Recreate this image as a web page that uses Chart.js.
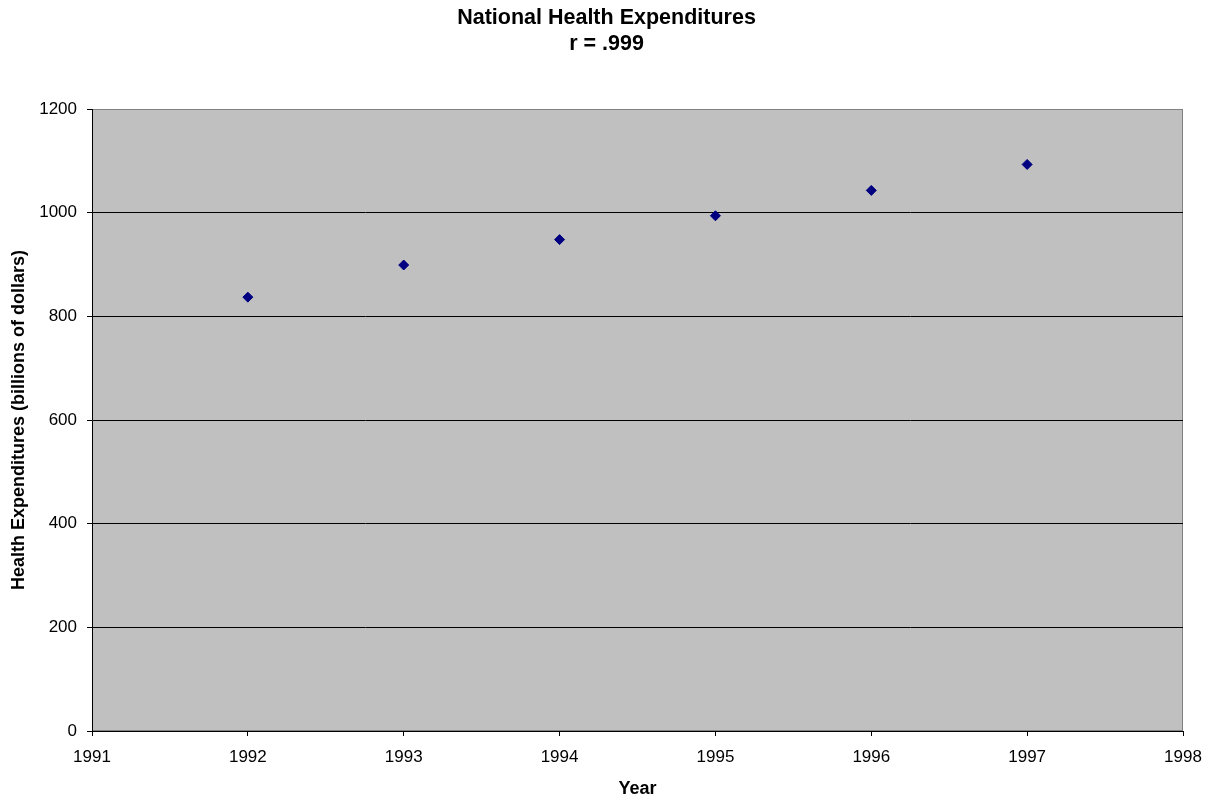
<!DOCTYPE html>
<html lang="en">
<head>
    <meta charset="UTF-8">
    <script src="https://cdn.jsdelivr.net/npm/chart.js@4.4.1/dist/chart.umd.min.js"></script>
    <title>National Health Expenditures</title>
    <style>
        html, body { margin: 0; padding: 0; background: #fff; }
        #wrap { width: 1213px; height: 802px; }
    </style>
</head>
<body>
    <div id="wrap"><canvas id="chart"></canvas></div>

    <script>
        // values
        const years = [1992, 1993, 1994, 1995, 1996, 1997]
        const spending = [837, 899, 948, 994, 1043, 1093]   // billions of dollars

        const xMin = 1991, xMax = 1998
        const yMin = 0, yMax = 1200, yStep = 200

        const points = years.map((yr, i) => ({ x: yr, y: spending[i] }))

        // grey plot area with a thin grey frame, drawn under the grid
        const plotBg = {
            id: 'plotBg',
            beforeDraw(chart) {
                const { ctx, chartArea: a } = chart
                ctx.save()
                ctx.fillStyle = '#c0c0c0'
                ctx.fillRect(a.left, a.top, a.right - a.left, a.bottom - a.top)
                ctx.strokeStyle = '#808080'
                ctx.lineWidth = 1
                ctx.strokeRect(a.left + 0.5, a.top + 0.5, a.right - a.left - 1, a.bottom - a.top - 1)
                ctx.restore()
            }
        }

        const font = 'Liberation Sans, Arial, sans-serif'

        const chart = new Chart(document.getElementById('chart'), {
            type: 'scatter',
            data: {
                datasets: [{
                    label: 'Health Expenditures',
                    data: points,
                    pointStyle: 'rectRot',
                    pointRadius: 5,
                    backgroundColor: '#000080',
                    borderColor: '#000080',
                    borderWidth: 1
                }]
            },
            options: {
                responsive: true,
                maintainAspectRatio: false,
                animation: false,
                layout: { padding: 0 },
                plugins: {
                    legend: { display: false },
                    tooltip: { enabled: false },
                    title: {
                        display: true,
                        text: ['National Health Expenditures', 'r = .999'],
                        color: '#000',
                        font: { family: font, size: 21.5, weight: 'bold', lineHeight: '26px' },
                        padding: { top: 5, bottom: 52 }
                    }
                },
                scales: {
                    x: {
                        type: 'linear',
                        min: xMin,
                        max: xMax,
                        afterFit: s => { s.height = 71 },
                        border: { display: true, color: '#000', width: 1 },
                        grid: { drawOnChartArea: false, drawTicks: true, tickLength: 5, color: '#000' },
                        ticks: {
                            stepSize: 1,
                            padding: 11,
                            color: '#000',
                            font: { family: font, size: 17 },
                            maxRotation: 0,
                            callback: v => String(v)
                        },
                        title: {
                            display: true,
                            text: 'Year',
                            color: '#000',
                            font: { family: font, size: 18, weight: 'bold' },
                            padding: { top: 0, bottom: 2 }
                        }
                    },
                    y: {
                        min: yMin,
                        max: yMax,
                        afterFit: s => { s.width = 92 },
                        border: { display: true, color: '#000', width: 1 },
                        grid: {
                            color: c => c.tick && c.tick.value === yMax ? '#808080' : '#000',
                            tickColor: '#000',
                            tickLength: 5,
                            lineWidth: 1
                        },
                        ticks: {
                            stepSize: yStep,
                            padding: 10,
                            color: '#000',
                            font: { family: font, size: 17 },
                            callback: v => String(v)
                        },
                        title: {
                            display: true,
                            text: 'Health Expenditures (billions of dollars)',
                            color: '#000',
                            font: { family: font, size: 18, weight: 'bold' },
                            padding: { top: 8, bottom: 0 }
                        }
                    },
                    // empty right-hand margin so the title centres on the page
                    yRight: {
                        position: 'right',
                        min: yMin,
                        max: yMax,
                        afterFit: s => { s.width = 30 },
                        border: { display: false },
                        grid: { display: false },
                        ticks: { display: false }
                    }
                }
            },
            plugins: [plotBg]
        })
    </script>
</body>
</html>
